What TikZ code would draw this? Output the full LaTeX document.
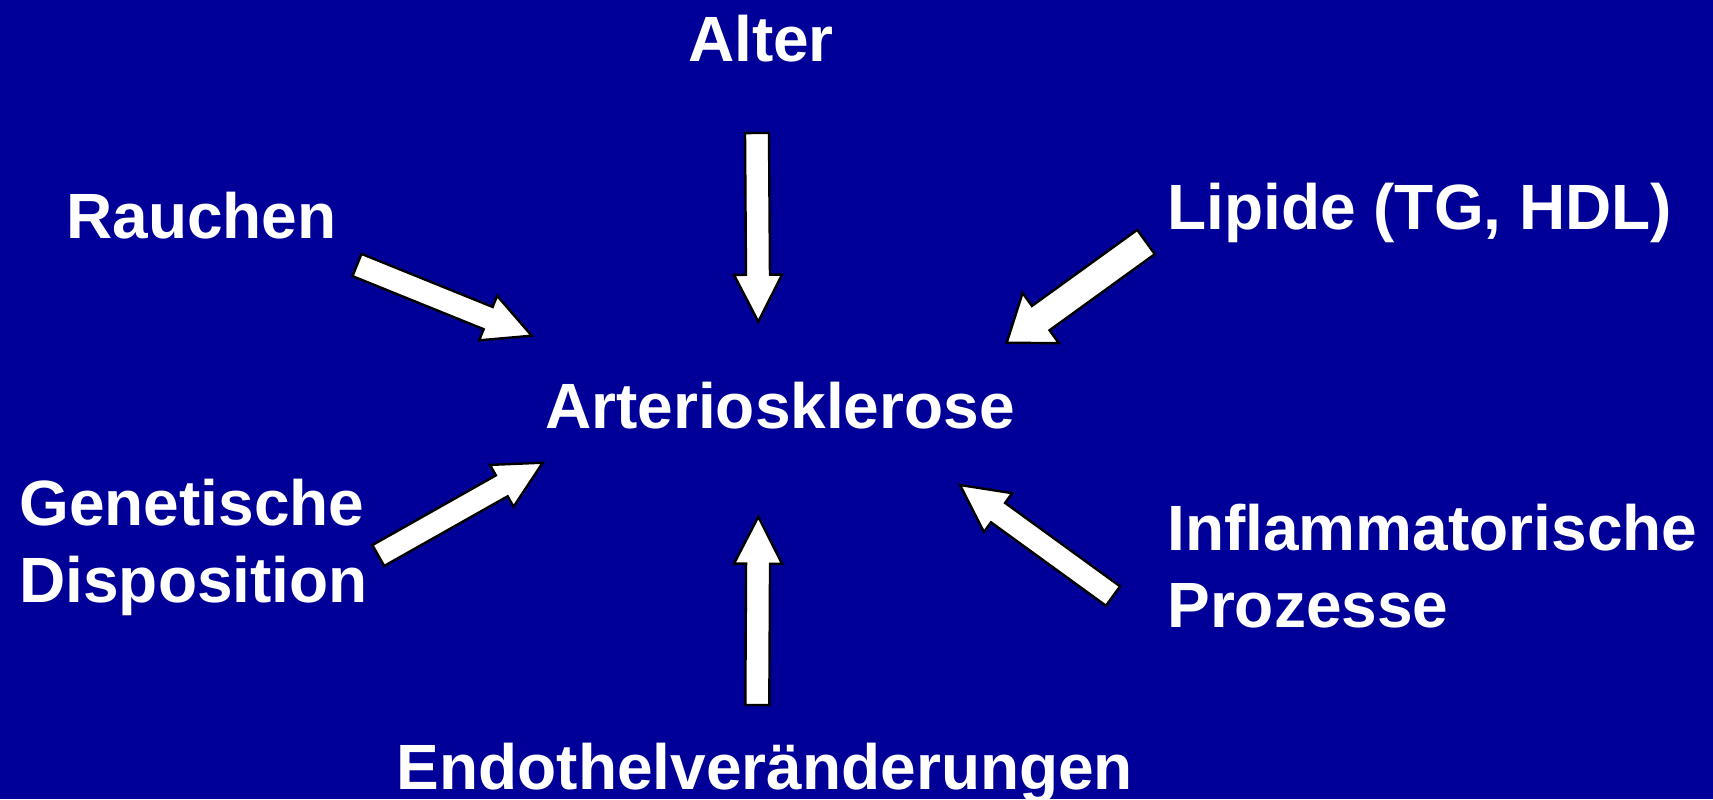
\documentclass[tikz,border=0pt]{standalone}
\usepackage{fontspec}
\setmainfont{Liberation Sans}
\usetikzlibrary{calc}
\definecolor{bg}{RGB}{0,0,153}
\tikzset{
  lbl/.style={text=white, font=\fontsize{32}{38.5}\selectfont\bfseries, inner sep=0pt, align=left},
  barrow/.style={fill=white, draw=black, line width=1.2pt, line join=miter},
}
% #1 tail, #2 tip, #3 shaft half width, #4 head half width, #5 head length
\newcommand\blockarr[5]{%
  \coordinate (hb) at ($(#2)!#5!(#1)$);
  \draw[barrow] ($(#1)!#3!90:(#2)$) -- ($(hb)!#3!-90:(#1)$) -- ($(hb)!#4!-90:(#1)$)
    -- (#2) -- ($(hb)!#4!90:(#1)$) -- ($(hb)!#3!90:(#1)$) -- ($(#1)!#3!-90:(#2)$) -- cycle;}
\begin{document}
\begin{tikzpicture}[x=0.5pt,y=-0.5pt]
\fill[bg] (0,0) rectangle (1713,799);
\useasboundingbox (0,0) rectangle (1713,799);

\node[lbl, anchor=base] (alter) at (761,61) {Alter};
\node[lbl, anchor=base west] (rauchen) at (66,238) {Rauchen};
\node[lbl, anchor=base west] (lipide) at (1167,229) {Lipide (TG, HDL)};
\node[lbl, anchor=base] (arterio) at (780,428) {Arteriosklerose};
\node[lbl, anchor=base west] (genet) at (19,602) {Genetische\\Disposition};
\node[lbl, anchor=base west] (inflam) at (1167,627) {Inflammatorische\\Prozesse};
\node[lbl, anchor=base] (endo) at (765,789) {Endothelveränderungen};

\coordinate (rT) at (357,265);    \coordinate (rH) at (531.7,335.7);
\coordinate (aT) at (757,133);    \coordinate (aH) at (758.3,321.7);
\coordinate (lT) at (1146,242);   \coordinate (lH) at (1006.7,342.7);
\coordinate (gT) at (378.3,555.5);\coordinate (gH) at (542.7,462.7);
\coordinate (iT) at (1113,596);   \coordinate (iH) at (960,485);
\coordinate (eT) at (757.3,705);  \coordinate (eH) at (758.3,516.7);

\blockarr{rT}{rH}{6pt}{12pt}{23.5pt}
\blockarr{aT}{aH}{6pt}{12pt}{23.5pt}
\blockarr{lT}{lH}{7.5pt}{15.5pt}{21pt}
\blockarr{gT}{gH}{6pt}{12pt}{23.5pt}
\blockarr{iT}{iH}{6pt}{12pt}{23.5pt}
\blockarr{eT}{eH}{6pt}{12pt}{23.5pt}
\end{tikzpicture}
\end{document}
